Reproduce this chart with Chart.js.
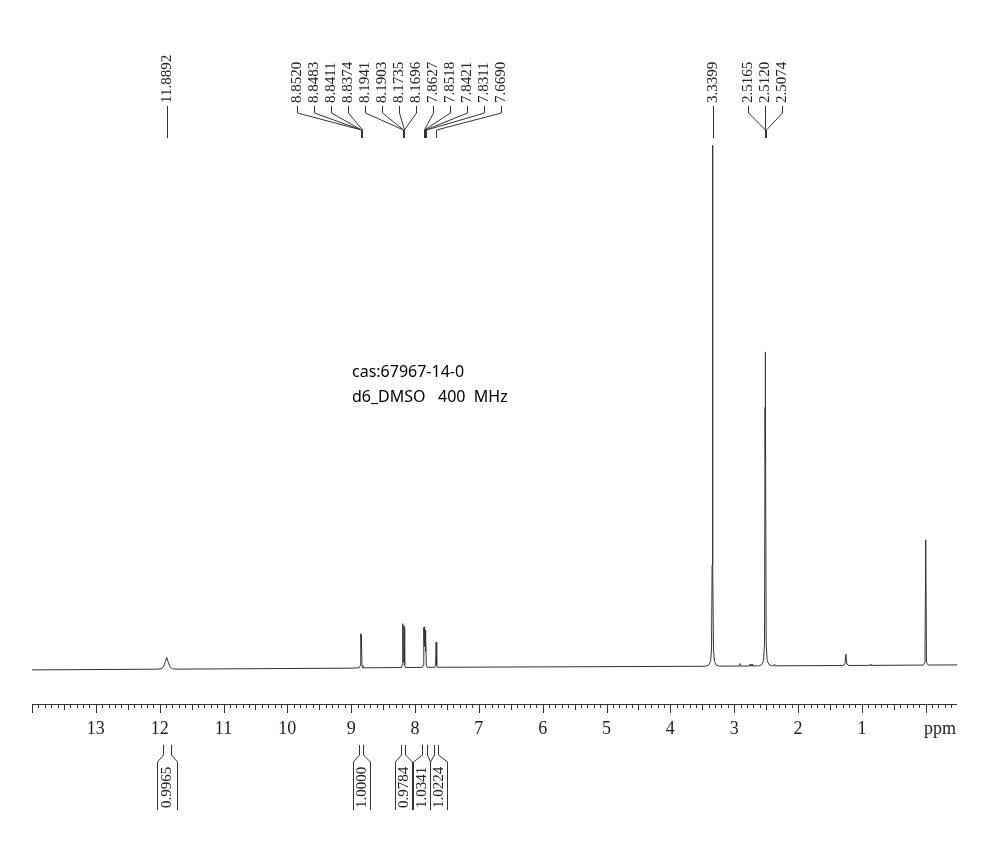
<!DOCTYPE html>
<html>
<head>
<meta charset="utf-8">
<title>1H NMR</title>
<script src="https://cdn.jsdelivr.net/npm/chart.js@4"></script>
<style>
  html, body { margin: 0; background: #fff; }
</style>
</head>
<body>
<canvas id="nmrChart" width="1005" height="853"></canvas>
<script>
// spectrum trace (ppm / relative intensity)
const tracePpm = [
  14.0, 12.1, 11.98, 11.94, 11.91, 11.889, 11.87, 11.84, 11.80, 11.7,
  9.0, 8.875, 8.86, 8.852, 8.848, 8.844, 8.841, 8.837, 8.83, 8.815,
  8.215, 8.202, 8.1941, 8.1903, 8.182, 8.1735, 8.1696, 8.162, 8.15,
  7.885, 7.872, 7.8627, 7.857, 7.8518, 7.847, 7.8421, 7.837, 7.8311, 7.822, 7.81,
  7.69, 7.678, 7.669, 7.66, 7.648,
  3.45, 3.40, 3.37, 3.355, 3.346, 3.3399, 3.334, 3.325, 3.31, 3.28, 3.23,
  2.92, 2.91, 2.90, 2.76, 2.75, 2.74, 2.73, 2.72, 2.71,
  2.62, 2.57, 2.54, 2.525, 2.5165, 2.514, 2.512, 2.510, 2.5074, 2.499, 2.484, 2.455,
  2.40, 2.38, 2.37, 2.36,
  1.30, 1.265, 1.25, 1.235, 1.20,
  0.88, 0.87, 0.86,
  0.04, 0.012, 0.0, -0.012, -0.04, -0.49
];
const traceIntensity = [
  0, 0.13, 0.2, 0.6, 1.6, 2.4, 1.6, 0.6, 0.2, 0.15,
  0.33, 0.4, 0.8, 5.6, 6.9, 6.0, 6.6, 5.2, 0.8, 0.4,
  0.45, 0.9, 8.3, 8.8, 1.5, 8.4, 8.0, 0.9, 0.45,
  0.48, 0.9, 8.1, 4.5, 8.2, 5.0, 7.6, 3.5, 6.0, 0.9, 0.5,
  0.5, 0.9, 5.3, 0.9, 0.5,
  0.69, 0.9, 1.6, 4.0, 20, 100, 20, 4.0, 1.6, 0.9, 0.72,
  0.73, 1.2, 0.73, 0.74, 1.1, 0.74, 0.74, 1.05, 0.74,
  0.76, 1.0, 1.8, 5, 50, 40, 60.6, 40, 50, 5, 1.8, 1.0,
  0.78, 0.78, 1.1, 0.78,
  0.83, 1.1, 3.0, 1.1, 0.84,
  0.86, 1.05, 0.86,
  0.92, 1.4, 24.8, 1.4, 0.93, 0.95
];

// peak picking labels
const peakLabels = [
  '11.8892',
  '8.8520', '8.8483', '8.8411', '8.8374',
  '8.1941', '8.1903', '8.1735', '8.1696',
  '7.8627', '7.8518', '7.8421', '7.8311', '7.6690',
  '3.3399',
  '2.5165', '2.5120', '2.5074'
];

// integrals
const integralFrom = [11.95, 8.875, 8.215, 7.89, 7.705];
const integralTo = [11.83, 8.815, 8.15, 7.815, 7.643];
const integralValues = ['0.9965', '1.0000', '0.9784', '1.0341', '1.0224'];

// axis labels
const axisLabels = [13, 12, 11, 10, 9, 8, 7, 6, 5, 4, 3, 2, 1];

const sampleText = ['cas:67967-14-0', 'd6_DMSO   400  MHz'];

// spread labels so that they keep a minimum gap
function spreadPositions(xs, gap) {
  let clusters = xs.map(x => ({ items: [x], center: x }));
  let merged = true;
  while (merged) {
    merged = false;
    for (let i = 0; i < clusters.length - 1; i++) {
      const a = clusters[i], b = clusters[i + 1];
      const aEnd = a.center + (a.items.length - 1) * gap / 2;
      const bStart = b.center - (b.items.length - 1) * gap / 2;
      if (bStart - aEnd < gap) {
        const items = a.items.concat(b.items);
        const center = items.reduce((s, v) => s + v, 0) / items.length;
        clusters.splice(i, 2, { items, center });
        merged = true;
        break;
      }
    }
  }
  const out = [];
  clusters.forEach(c => {
    const start = c.center - (c.items.length - 1) * gap / 2;
    c.items.forEach((_, k) => out.push(start + k * gap));
  });
  return out;
}

const nmrDecor = {
  id: 'nmrDecor',
  afterDraw(chart) {
    const { ctx, chartArea } = chart;
    const x = chart.scales.x;
    const axisY = chartArea.bottom;
    ctx.save();
    ctx.strokeStyle = '#333';
    ctx.fillStyle = '#222';
    ctx.lineWidth = 1;

    // ppm axis
    ctx.beginPath();
    ctx.moveTo(chartArea.left, axisY + 0.5);
    ctx.lineTo(chartArea.right, axisY + 0.5);
    for (let k = -4; k <= 140; k++) {
      const px = Math.round(x.getPixelForValue(k / 10)) + 0.5;
      const len = k % 10 === 0 ? 9 : (Math.abs(k % 10) === 5 ? 6 : 4);
      ctx.moveTo(px, axisY);
      ctx.lineTo(px, axisY + len);
    }
    ctx.stroke();
    ctx.font = '18px "Liberation Serif"';
    ctx.textAlign = 'center';
    ctx.textBaseline = 'middle';
    axisLabels.forEach(v => ctx.fillText(String(v), x.getPixelForValue(v), axisY + 25));
    ctx.fillText('ppm', 940, axisY + 25);

    // peak labels on top
    const peakPx = peakLabels.map(l => x.getPixelForValue(parseFloat(l)));
    const order = peakPx.map((p, i) => i).sort((a, b) => peakPx[a] - peakPx[b]);
    const spread = spreadPositions(order.map(i => peakPx[i]), 17);
    ctx.font = '15px "Liberation Serif"';
    ctx.textAlign = 'left';
    ctx.beginPath();
    order.forEach((i, k) => {
      const lx = Math.round(spread[k]) + 0.5;
      const px = Math.round(peakPx[i]) + 0.5;
      ctx.moveTo(lx, 106);
      ctx.lineTo(lx, 113);
      ctx.lineTo(px, 130);
      ctx.lineTo(px, 138);
    });
    ctx.stroke();
    order.forEach((i, k) => {
      ctx.save();
      ctx.translate(Math.round(spread[k]) + 0.5, 103);
      ctx.rotate(-Math.PI / 2);
      ctx.fillText(peakLabels[i], 0, 0);
      ctx.restore();
    });

    // integral brackets below
    const x1s = integralFrom.map(v => x.getPixelForValue(v));
    const x2s = integralTo.map(v => x.getPixelForValue(v));
    const centers = spreadPositions(x1s.map((v, i) => (v + x2s[i]) / 2), 17.5);
    ctx.beginPath();
    integralValues.forEach((_, i) => {
      const a = Math.round(x1s[i]) + 0.5, b = Math.round(x2s[i]) + 0.5;
      const hw = Math.max(8.5, (b - a) / 2 + 6);
      const l = Math.round(centers[i] - hw) + 0.5, r = Math.round(centers[i] + hw) + 0.5;
      ctx.moveTo(a, 745); ctx.lineTo(a, 755); ctx.lineTo(l, 762); ctx.lineTo(l, 810);
      ctx.moveTo(b, 745); ctx.lineTo(b, 755); ctx.lineTo(r, 762); ctx.lineTo(r, 810);
    });
    ctx.stroke();
    integralValues.forEach((t, i) => {
      ctx.save();
      ctx.translate(centers[i] + 0.5, 808);
      ctx.rotate(-Math.PI / 2);
      ctx.fillText(t, 0, 0);
      ctx.restore();
    });

    // sample info
    ctx.fillStyle = '#000';
    ctx.font = '16px "Noto Sans"';
    ctx.textBaseline = 'middle';
    ctx.fillText(sampleText[0], 352, 372);
    ctx.fillText(sampleText[1], 352, 397);
    ctx.restore();
  }
};

new Chart(document.getElementById('nmrChart'), {
  type: 'line',
  data: {
    datasets: [{
      data: tracePpm.map((p, i) => ({ x: p, y: traceIntensity[i] })),
      borderColor: '#333',
      borderWidth: 1,
      pointRadius: 0,
      tension: 0,
      fill: false
    }]
  },
  options: {
    responsive: false,
    animation: false,
    devicePixelRatio: 1,
    layout: { padding: { left: 32, right: 48, top: 140, bottom: 149 } },
    plugins: { legend: { display: false }, tooltip: { enabled: false } },
    scales: {
      x: { type: 'linear', reverse: true, min: -0.49, max: 14.0, display: false },
      y: { min: -6.5, max: 101, display: false }
    }
  },
  plugins: [nmrDecor]
});
</script>
</body>
</html>
